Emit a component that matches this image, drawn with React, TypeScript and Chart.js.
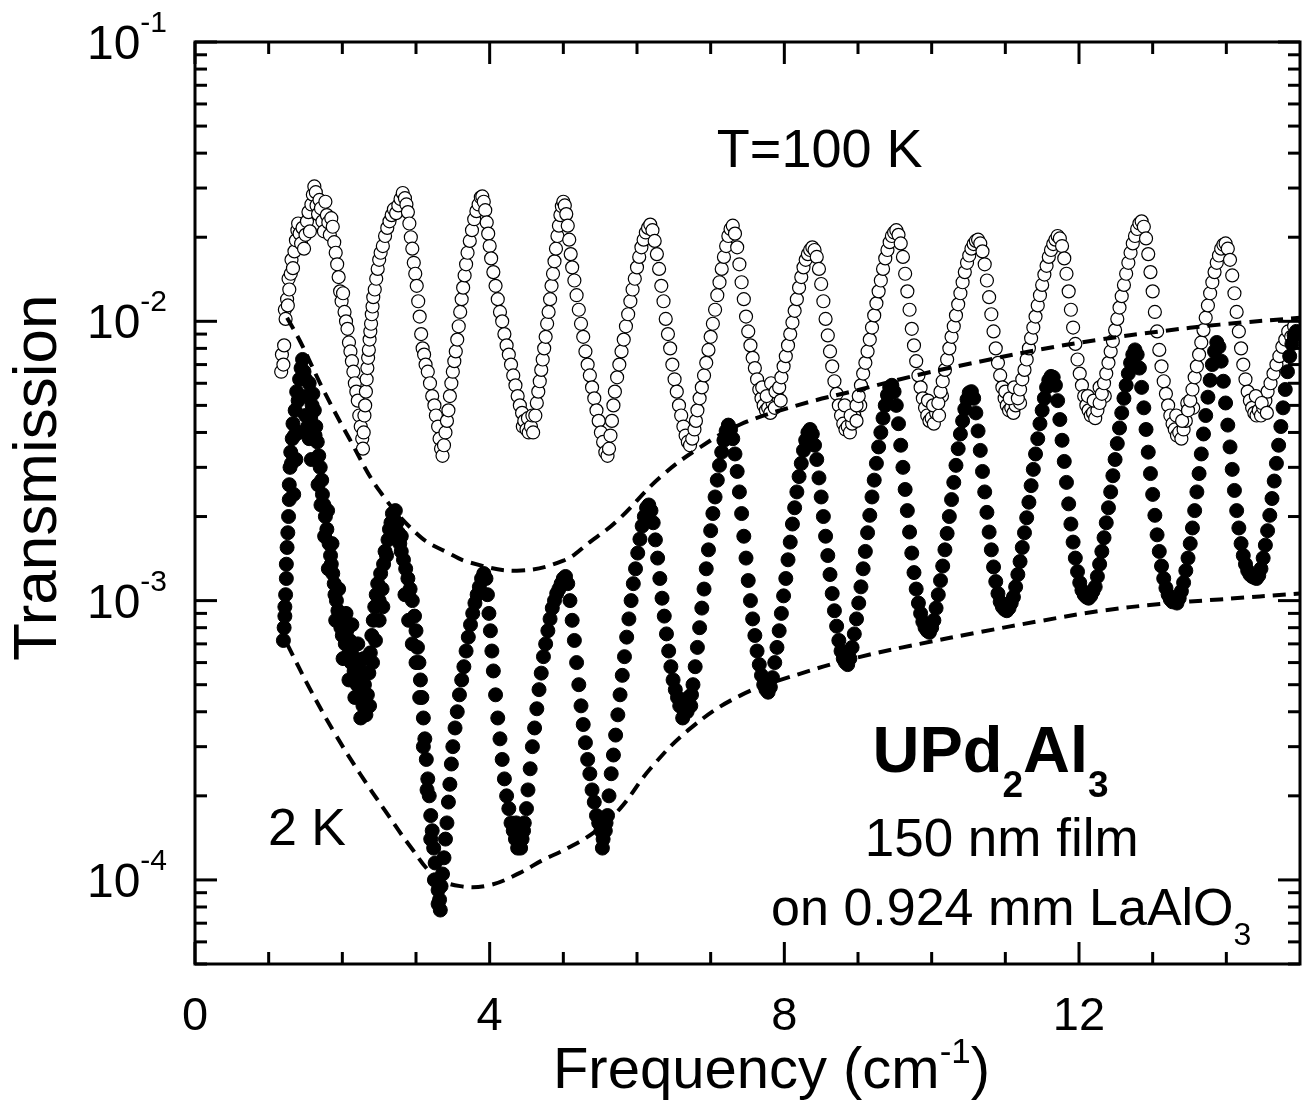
import React, { useEffect, useRef } from "react";
import { Chart, registerables } from "chart.js";

Chart.register(...registerables);

// ---- axes ----
const X_MIN = 0;
const X_MAX = 15;
const Y_MIN = 5e-5;
const Y_MAX = 0.1;
const X_MAJOR_TICKS = [0, 4, 8, 12];
const X_TICK_LABELS = ["0", "4", "8", "12"];
const X_MINOR_TICKS = [1, 2, 3, 5, 6, 7, 9, 10, 11, 13, 14];
const Y_DECADE_EXPONENTS = [-1, -2, -3, -4];
const Y_MINOR_MULTIPLIERS = [2, 3, 4, 5, 6, 7, 8, 9];

// values below are in units of 1e-3 (transmission)
const UNIT = 1e-3;

// T = 100 K, open circles: [frequency (cm^-1), transmission x 1e-3]
const t100K: [number, number][] = [
  [1.17, 6.6], [1.18, 7.6], [1.2, 7.0], [1.21, 8.2], [1.22, 11.0], [1.23, 10.2], [1.25, 12.0], [1.26, 11.4],
  [1.27, 14.2], [1.28, 13.0], [1.3, 14.8], [1.31, 16.6], [1.33, 15.5], [1.35, 17.8], [1.37, 19.5], [1.39, 21.2],
  [1.4, 22.4], [1.42, 20.6], [1.44, 19.0], [1.46, 21.6], [1.48, 18.2], [1.5, 20.4], [1.52, 22.8], [1.54, 24.6],
  [1.56, 21.0], [1.58, 26.2], [1.6, 28.4], [1.62, 30.4], [1.64, 29.0], [1.65, 26.0], [1.67, 24.2], [1.69, 27.2],
  [1.71, 25.4], [1.73, 22.8], [1.75, 21.0], [1.77, 26.8], [1.79, 24.0], [1.81, 22.6], [1.83, 20.4], [1.85, 23.4],
  [1.87, 21.8], [1.89, 19.2], [1.91, 17.6], [1.93, 16.0], [1.95, 14.4], [1.97, 12.8], [1.99, 11.8], [2.01, 12.6],
  [2.03, 10.8], [2.05, 10.0], [2.07, 9.4], [2.09, 8.4], [2.11, 7.8], [2.13, 7.2], [2.15, 6.6], [2.17, 6.0],
  [2.19, 5.6], [2.21, 5.2], [2.23, 4.6], [2.25, 4.2], [2.27, 3.8], [2.28, 3.5],
  [2.29, 4.0], [2.3, 4.6], [2.31, 5.0], [2.32, 5.6], [2.33, 6.2], [2.34, 6.8], [2.35, 7.4], [2.36, 7.9],
  [2.37, 8.6], [2.38, 9.2], [2.39, 9.8], [2.4, 10.6], [2.41, 11.3], [2.42, 12.2], [2.44, 13.0], [2.46, 14.2],
  [2.48, 15.4], [2.5, 16.6], [2.52, 17.6], [2.55, 18.6], [2.58, 20.2], [2.61, 21.6], [2.64, 22.8], [2.67, 24.0],
  [2.7, 25.2], [2.73, 24.4], [2.76, 26.0], [2.79, 27.4], [2.82, 28.8], [2.85, 27.6], [2.87, 26.2], [2.89, 24.6],
  [2.91, 22.4], [2.93, 20.0], [2.95, 18.2], [2.97, 16.2], [2.99, 14.8], [3.01, 13.4], [3.03, 11.8], [3.05, 10.4],
  [3.07, 9.0], [3.09, 8.0], [3.11, 7.6], [3.13, 7.0], [3.16, 6.6], [3.19, 6.0], [3.22, 5.4], [3.25, 5.0],
  [3.27, 4.6], [3.3, 4.2], [3.32, 3.8], [3.34, 3.5], [3.36, 3.3], [3.38, 3.6], [3.4, 4.0], [3.42, 4.4],
  [3.44, 4.8], [3.46, 5.4], [3.48, 6.0], [3.5, 6.6], [3.52, 7.2], [3.54, 7.8], [3.56, 8.6], [3.58, 9.6],
  [3.6, 10.8], [3.62, 12.0], [3.64, 13.2], [3.66, 14.6], [3.68, 16.0], [3.7, 17.6], [3.73, 19.4], [3.76, 21.2],
  [3.79, 23.2], [3.82, 24.8], [3.85, 26.2], [3.88, 27.8], [3.9, 28.0], [3.92, 26.8], [3.94, 25.0], [3.96, 22.6],
  [3.98, 20.6], [4.0, 18.6], [4.02, 16.8], [4.05, 15.0], [4.08, 13.4], [4.11, 12.0], [4.14, 10.8], [4.17, 10.0],
  [4.2, 9.0], [4.23, 8.2], [4.26, 7.6], [4.29, 7.0], [4.32, 6.4], [4.35, 5.9], [4.38, 5.4], [4.41, 5.0],
  [4.44, 4.7], [4.45, 4.2], [4.47, 4.4], [4.5, 4.1], [4.52, 4.5], [4.53, 4.0], [4.56, 4.2], [4.58, 4.6], [4.59, 4.0],
  [4.62, 4.6], [4.64, 5.1], [4.66, 5.6], [4.68, 6.1], [4.7, 6.7], [4.72, 7.3], [4.74, 8.0], [4.76, 8.8],
  [4.78, 9.8], [4.8, 10.8], [4.82, 12.0], [4.84, 13.4], [4.86, 14.8], [4.88, 16.4], [4.9, 18.2], [4.92, 20.2],
  [4.94, 22.0], [4.96, 24.0], [4.98, 25.8], [5.0, 26.8], [5.02, 26.0], [5.04, 24.2], [5.06, 22.0], [5.08, 19.6],
  [5.1, 17.4], [5.12, 15.6], [5.15, 14.0], [5.18, 12.4], [5.21, 11.0], [5.24, 9.8], [5.27, 8.8], [5.3, 7.8],
  [5.33, 7.0], [5.36, 6.4], [5.39, 5.8], [5.42, 5.3], [5.45, 4.8], [5.48, 4.4], [5.51, 4.0], [5.54, 3.7],
  [5.57, 3.4], [5.6, 3.3], [5.62, 3.5],
  [5.64, 3.9], [5.66, 4.4], [5.68, 5.0], [5.7, 5.6], [5.73, 6.3], [5.76, 7.0], [5.79, 7.8], [5.82, 8.6],
  [5.85, 9.6], [5.88, 10.6], [5.91, 11.8], [5.94, 13.0], [5.97, 14.2], [6.0, 15.6], [6.03, 17.0], [6.06, 18.4],
  [6.09, 19.6], [6.12, 20.8], [6.15, 21.6], [6.18, 22.2], [6.21, 21.2], [6.24, 19.4], [6.27, 17.4], [6.3, 15.4],
  [6.33, 13.4], [6.36, 11.8], [6.39, 10.2], [6.42, 9.0], [6.45, 8.0], [6.48, 7.0], [6.51, 6.2], [6.54, 5.6],
  [6.57, 5.0], [6.6, 4.6], [6.63, 4.2], [6.66, 3.9], [6.69, 3.7], [6.72, 3.6], [6.75, 3.8], [6.78, 4.1],
  [6.8, 4.4], [6.82, 4.8], [6.85, 5.3], [6.88, 5.8], [6.91, 6.4], [6.94, 7.1], [6.97, 7.9], [7.0, 8.8],
  [7.03, 9.8], [7.06, 11.0], [7.09, 12.4], [7.12, 13.8], [7.15, 15.4], [7.18, 17.0], [7.21, 18.6], [7.24, 20.2],
  [7.27, 21.4], [7.3, 22.0], [7.33, 20.6], [7.36, 18.4], [7.39, 16.0], [7.42, 13.8], [7.45, 12.0], [7.48, 10.4],
  [7.51, 9.2], [7.54, 8.2], [7.57, 7.4], [7.6, 6.8], [7.63, 6.2], [7.66, 5.7], [7.69, 5.3], [7.72, 5.0],
  [7.75, 4.8], [7.78, 4.9], [7.81, 4.7], [7.84, 5.1], [7.87, 4.9], [7.9, 5.4],
  [7.7, 5.8], [7.76, 5.4], [7.82, 6.0], [7.88, 5.6], [7.95, 5.2],
  [7.93, 5.8], [7.96, 6.3], [7.99, 6.9], [8.02, 7.5], [8.05, 8.2], [8.08, 9.0], [8.11, 9.9], [8.14, 10.9],
  [8.17, 12.0], [8.2, 13.2], [8.23, 14.4], [8.26, 15.6], [8.29, 16.6], [8.32, 17.4], [8.35, 18.0], [8.38, 18.4],
  [8.41, 18.0], [8.44, 17.0], [8.47, 15.4], [8.5, 13.6], [8.53, 11.8], [8.56, 10.2], [8.59, 8.9], [8.62, 7.8],
  [8.65, 6.9], [8.68, 6.1], [8.71, 5.5], [8.74, 5.0], [8.77, 4.6], [8.8, 4.3], [8.83, 4.1], [8.86, 4.2],
  [8.89, 4.0], [8.92, 4.3], [8.95, 4.6],
  [8.82, 5.0], [8.9, 4.6], [8.98, 4.4], [9.03, 5.0],
  [8.98, 5.0], [9.01, 5.4], [9.04, 5.9], [9.07, 6.5], [9.1, 7.1], [9.13, 7.8], [9.16, 8.6], [9.19, 9.5],
  [9.22, 10.5], [9.25, 11.6], [9.28, 12.8], [9.31, 14.0], [9.34, 15.4], [9.37, 16.8], [9.4, 18.0], [9.43, 19.2],
  [9.46, 20.2], [9.49, 20.8], [9.52, 21.2], [9.55, 20.4], [9.58, 19.0], [9.61, 17.0], [9.64, 14.8], [9.67, 12.8],
  [9.7, 11.0], [9.73, 9.4], [9.76, 8.2], [9.79, 7.2], [9.82, 6.4], [9.85, 5.8], [9.88, 5.3], [9.91, 4.9],
  [9.94, 4.6], [9.97, 4.4], [10.0, 4.5], [10.03, 4.3], [10.06, 4.7],
  [9.95, 5.2], [10.02, 5.0], [10.1, 4.6], [10.14, 5.4],
  [10.09, 5.1], [10.12, 5.6], [10.15, 6.1], [10.18, 6.7], [10.21, 7.3], [10.24, 8.0], [10.27, 8.8], [10.3, 9.6],
  [10.33, 10.5], [10.36, 11.5], [10.39, 12.6], [10.42, 13.8], [10.45, 15.0], [10.48, 16.2], [10.51, 17.2], [10.54, 18.2],
  [10.57, 18.9], [10.6, 19.4], [10.63, 19.6], [10.66, 19.0], [10.69, 17.8], [10.72, 16.0], [10.75, 14.0], [10.78, 12.2],
  [10.81, 10.6], [10.84, 9.2], [10.87, 8.0], [10.9, 7.1], [10.93, 6.4], [10.96, 5.8], [10.99, 5.3], [11.02, 5.0],
  [11.05, 4.8], [11.08, 4.9], [11.11, 4.7], [11.14, 5.0],
  [11.0, 5.6], [11.06, 5.3], [11.12, 5.8], [11.2, 5.1],
  [11.17, 5.3], [11.2, 5.7], [11.23, 6.2], [11.26, 6.7], [11.29, 7.3], [11.32, 8.0], [11.35, 8.7], [11.38, 9.5],
  [11.41, 10.4], [11.44, 11.4], [11.47, 12.4], [11.5, 13.5], [11.53, 14.7], [11.56, 15.8], [11.59, 17.0], [11.62, 18.0],
  [11.65, 18.9], [11.68, 19.6], [11.71, 20.2], [11.74, 19.8], [11.77, 18.6], [11.8, 16.8], [11.83, 14.8], [11.86, 12.8],
  [11.89, 11.0], [11.92, 9.5], [11.95, 8.3], [11.98, 7.3], [12.01, 6.5], [12.04, 5.9], [12.07, 5.4], [12.1, 5.0],
  [12.13, 4.8], [12.16, 4.6], [12.19, 4.7], [12.22, 4.5], [12.25, 4.8],
  [12.12, 5.4], [12.2, 5.2], [12.28, 5.8], [12.35, 5.4],
  [12.28, 5.1], [12.31, 5.5], [12.34, 6.0], [12.37, 6.5], [12.4, 7.1], [12.43, 7.8], [12.46, 8.5], [12.49, 9.3],
  [12.52, 10.2], [12.55, 11.2], [12.58, 12.3], [12.61, 13.5], [12.64, 14.8], [12.67, 16.2], [12.7, 17.6], [12.73, 19.0],
  [12.76, 20.2], [12.79, 21.4], [12.82, 22.4], [12.85, 22.8], [12.88, 21.8], [12.91, 19.8], [12.94, 17.4], [12.97, 15.0],
  [13.0, 12.8], [13.03, 10.8], [13.06, 9.2], [13.09, 7.9], [13.12, 6.9], [13.15, 6.1], [13.18, 5.5], [13.21, 5.0],
  [13.24, 4.6], [13.27, 4.3], [13.3, 4.1], [13.33, 3.9], [13.36, 4.0], [13.39, 3.8], [13.42, 4.1], [13.45, 4.4],
  [13.32, 4.6], [13.4, 4.4], [13.47, 5.1], [13.55, 4.9],
  [13.48, 4.8], [13.51, 5.2], [13.54, 5.7], [13.57, 6.3], [13.6, 6.9], [13.63, 7.6], [13.66, 8.4], [13.69, 9.3],
  [13.72, 10.3], [13.75, 11.4], [13.78, 12.6], [13.81, 13.8], [13.84, 15.0], [13.87, 16.2], [13.9, 17.2], [13.93, 18.2],
  [13.96, 18.8], [13.99, 19.0], [14.02, 18.2], [14.05, 16.6], [14.08, 14.6], [14.11, 12.6], [14.14, 10.8], [14.17, 9.2],
  [14.2, 8.0], [14.23, 7.0], [14.26, 6.2], [14.29, 5.6], [14.32, 5.2], [14.35, 4.9], [14.38, 4.7], [14.41, 4.6],
  [14.44, 4.8], [14.47, 4.6], [14.5, 4.9], [14.53, 5.2], [14.56, 5.6], [14.6, 6.0], [14.64, 6.5], [14.68, 7.0],
  [14.4, 5.4], [14.48, 5.1], [14.55, 4.7],
  [14.72, 7.5], [14.76, 8.1], [14.8, 8.6], [14.84, 9.2], [14.88, 8.8], [14.92, 9.6], [14.96, 8.4],
];

// T = 2 K, filled circles: [frequency (cm^-1), transmission x 1e-3]
const t2K: [number, number][] = [
  [1.2, 0.72], [1.21, 0.8], [1.22, 0.88], [1.22, 0.95], [1.23, 1.05], [1.24, 1.2], [1.24, 1.35], [1.25, 1.55],
  [1.26, 1.75], [1.27, 2.0], [1.28, 2.3], [1.28, 2.6], [1.29, 3.0], [1.3, 3.4], [1.31, 3.1], [1.32, 3.8],
  [1.33, 4.3], [1.35, 3.9], [1.36, 4.8], [1.38, 5.6], [1.4, 5.2], [1.42, 6.2], [1.44, 6.8], [1.46, 7.3],
  [1.48, 6.6], [1.5, 6.2], [1.52, 5.4], [1.5, 4.6], [1.53, 4.2], [1.55, 3.8], [1.57, 4.5], [1.59, 5.0],
  [1.6, 5.5], [1.62, 4.8], [1.64, 4.2], [1.66, 3.7], [1.68, 3.3], [1.7, 3.0], [1.72, 2.7], [1.73, 2.4],
  [1.75, 2.2], [1.77, 2.0], [1.79, 1.8], [1.8, 2.1], [1.82, 1.6], [1.84, 1.45], [1.85, 1.35], [1.87, 1.25],
  [1.89, 1.15], [1.9, 1.05], [1.92, 1.0], [1.94, 0.92], [1.96, 0.86], [1.98, 0.8], [2.0, 0.75], [2.02, 0.82],
  [2.04, 0.7], [2.06, 0.78], [2.08, 0.64], [2.1, 0.72], [2.12, 0.6], [2.14, 0.68], [2.16, 0.56], [2.18, 0.62],
  [2.2, 0.5], [2.22, 0.58], [2.24, 0.46], [2.26, 0.54], [2.28, 0.42], [2.3, 0.5], [2.32, 0.39], [2.34, 0.46],
  [2.36, 0.55], [2.38, 0.65], [2.4, 0.75], [2.42, 0.85], [2.44, 0.95],
  [1.34, 2.4], [1.37, 3.2], [1.41, 4.0], [1.55, 6.0], [1.58, 3.2], [1.63, 3.9], [1.67, 2.6], [1.71, 2.2],
  [1.76, 1.7], [1.81, 1.3], [1.86, 1.6], [1.91, 0.85], [1.95, 1.1], [2.01, 0.62], [2.05, 0.9], [2.09, 0.52],
  [2.13, 0.82], [2.17, 0.45], [2.21, 0.7], [2.25, 0.38], [2.29, 0.62], [2.33, 0.55], [2.37, 0.42], [2.41, 0.6],
  [2.45, 0.72], [2.5, 0.85], [2.55, 0.95],
  [2.46, 1.05], [2.48, 1.15], [2.5, 1.0], [2.52, 1.25], [2.54, 1.1], [2.56, 1.35], [2.58, 1.5], [2.6, 1.45],
  [2.62, 1.65], [2.64, 1.8], [2.66, 1.9], [2.68, 2.05], [2.7, 1.95], [2.72, 2.1], [2.74, 1.9], [2.76, 1.75],
  [2.78, 1.6], [2.8, 1.5], [2.83, 1.4], [2.86, 1.3], [2.89, 1.2], [2.92, 1.1], [2.95, 1.0], [2.98, 0.88],
  [3.0, 0.78], [3.02, 0.68], [3.04, 0.6], [3.06, 0.52], [3.08, 0.45], [3.1, 0.38], [3.12, 0.32], [3.14, 0.27],
  [3.16, 0.23], [3.18, 0.2], [3.2, 0.17], [3.22, 0.15], [3.24, 0.13], [3.26, 0.115], [3.28, 0.1], [3.3, 0.092],
  [3.32, 0.085], [3.33, 0.078], [3.34, 0.095], [3.36, 0.105],
  [2.8, 1.7], [2.85, 1.05], [2.9, 0.85], [2.95, 0.7], [3.0, 0.6], [3.05, 0.45], [3.1, 0.3], [3.15, 0.21],
  [3.2, 0.14], [3.25, 0.1], [3.3, 0.082],
  [3.38, 0.12], [3.4, 0.14], [3.42, 0.16], [3.44, 0.19], [3.46, 0.22], [3.48, 0.26], [3.5, 0.3], [3.53, 0.35],
  [3.56, 0.4], [3.59, 0.46], [3.62, 0.52], [3.65, 0.58], [3.68, 0.66], [3.71, 0.74], [3.74, 0.82], [3.77, 0.9],
  [3.8, 0.98], [3.83, 1.05], [3.86, 1.12], [3.89, 1.2], [3.92, 1.25], [3.95, 1.2], [3.97, 1.05], [3.99, 0.9],
  [4.01, 0.78], [4.03, 0.66], [4.05, 0.56], [4.08, 0.46], [4.11, 0.38], [4.14, 0.32], [4.17, 0.27], [4.2, 0.23],
  [4.23, 0.2], [4.26, 0.18], [4.29, 0.16], [4.32, 0.15], [4.35, 0.14], [4.38, 0.13], [4.41, 0.15], [4.44, 0.14],
  [4.47, 0.16], [4.36, 0.16], [4.42, 0.13], [4.46, 0.15],
  [4.5, 0.18], [4.52, 0.21], [4.55, 0.25], [4.58, 0.3], [4.61, 0.35], [4.64, 0.41], [4.67, 0.48], [4.7, 0.55],
  [4.73, 0.63], [4.76, 0.7], [4.79, 0.78], [4.82, 0.86], [4.85, 0.94], [4.88, 1.0], [4.91, 1.06], [4.94, 1.1],
  [4.97, 1.15], [5.0, 1.2], [5.03, 1.22], [5.06, 1.15], [5.09, 1.0], [5.12, 0.85], [5.15, 0.72], [5.18, 0.6],
  [5.21, 0.5], [5.24, 0.42], [5.27, 0.36], [5.3, 0.31], [5.33, 0.27], [5.36, 0.24], [5.39, 0.21], [5.42, 0.19],
  [5.45, 0.17], [5.48, 0.16], [5.51, 0.15], [5.54, 0.14], [5.57, 0.15], [5.6, 0.17],
  [5.5, 0.16], [5.53, 0.13], [5.58, 0.16],
  [5.62, 0.2], [5.65, 0.24], [5.68, 0.28], [5.71, 0.33], [5.74, 0.39], [5.77, 0.46], [5.8, 0.54], [5.83, 0.63],
  [5.86, 0.74], [5.89, 0.86], [5.92, 1.0], [5.95, 1.15], [5.98, 1.3], [6.01, 1.48], [6.04, 1.66], [6.07, 1.85],
  [6.1, 2.0], [6.13, 2.15], [6.16, 2.2], [6.19, 2.1], [6.22, 1.9], [6.25, 1.65], [6.28, 1.42], [6.31, 1.2],
  [6.34, 1.02], [6.37, 0.88], [6.4, 0.76], [6.43, 0.66], [6.46, 0.58], [6.49, 0.52], [6.52, 0.48], [6.55, 0.45],
  [6.58, 0.42], [6.61, 0.44], [6.64, 0.4], [6.67, 0.43], [6.7, 0.45], [6.73, 0.42],
  [6.62, 0.38], [6.68, 0.4], [6.74, 0.46],
  [6.76, 0.5], [6.79, 0.58], [6.82, 0.68], [6.85, 0.8], [6.88, 0.94], [6.91, 1.1], [6.94, 1.3], [6.97, 1.52],
  [7.0, 1.78], [7.03, 2.05], [7.06, 2.35], [7.09, 2.7], [7.12, 3.05], [7.15, 3.4], [7.18, 3.75], [7.21, 4.05],
  [7.24, 4.25], [7.27, 4.1], [7.3, 3.8], [7.33, 3.35], [7.36, 2.9], [7.39, 2.45], [7.42, 2.05], [7.45, 1.7],
  [7.48, 1.42], [7.51, 1.18], [7.54, 1.0], [7.57, 0.86], [7.6, 0.75], [7.63, 0.66], [7.66, 0.59], [7.69, 0.54],
  [7.72, 0.5], [7.75, 0.48], [7.78, 0.47], [7.81, 0.49],
  [7.84, 0.53], [7.87, 0.6], [7.9, 0.68], [7.93, 0.78], [7.96, 0.9], [7.99, 1.04], [8.02, 1.2], [8.05, 1.4],
  [8.08, 1.62], [8.11, 1.88], [8.14, 2.15], [8.17, 2.45], [8.2, 2.78], [8.23, 3.1], [8.26, 3.45], [8.29, 3.75],
  [8.32, 4.0], [8.35, 4.1], [8.38, 3.95], [8.41, 3.6], [8.44, 3.2], [8.47, 2.75], [8.5, 2.35], [8.53, 2.0],
  [8.56, 1.7], [8.59, 1.45], [8.62, 1.24], [8.65, 1.06], [8.68, 0.92], [8.71, 0.81], [8.74, 0.72], [8.77, 0.66],
  [8.8, 0.62], [8.83, 0.6], [8.86, 0.59], [8.89, 0.62],
  [8.92, 0.68], [8.95, 0.76], [8.98, 0.86], [9.01, 0.98], [9.04, 1.12], [9.07, 1.3], [9.1, 1.5], [9.13, 1.75],
  [9.16, 2.02], [9.19, 2.35], [9.22, 2.7], [9.25, 3.1], [9.28, 3.55], [9.31, 4.0], [9.34, 4.5], [9.37, 5.0],
  [9.4, 5.45], [9.43, 5.8], [9.46, 5.9], [9.49, 5.6], [9.52, 5.0], [9.55, 4.3], [9.58, 3.6], [9.61, 3.0],
  [9.64, 2.5], [9.67, 2.1], [9.7, 1.76], [9.73, 1.48], [9.76, 1.26], [9.79, 1.1], [9.82, 0.98], [9.85, 0.9],
  [9.88, 0.84], [9.91, 0.8], [9.94, 0.78], [9.97, 0.77], [10.0, 0.8],
  [10.03, 0.85], [10.06, 0.94], [10.09, 1.05], [10.12, 1.18], [10.15, 1.33], [10.18, 1.52], [10.21, 1.74], [10.24, 2.0],
  [10.27, 2.3], [10.3, 2.65], [10.33, 3.05], [10.36, 3.5], [10.39, 3.95], [10.42, 4.4], [10.45, 4.85], [10.48, 5.25],
  [10.51, 5.55], [10.54, 5.6], [10.57, 5.3], [10.6, 4.7], [10.63, 4.05], [10.66, 3.45], [10.69, 2.9], [10.72, 2.45],
  [10.75, 2.07], [10.78, 1.76], [10.81, 1.52], [10.84, 1.32], [10.87, 1.17], [10.9, 1.06], [10.93, 0.99], [10.96, 0.95],
  [10.99, 0.93], [11.02, 0.92], [11.05, 0.94], [11.08, 0.98],
  [11.11, 1.03], [11.14, 1.12], [11.17, 1.24], [11.2, 1.38], [11.23, 1.55], [11.26, 1.75], [11.29, 1.98], [11.32, 2.25],
  [11.35, 2.58], [11.38, 2.95], [11.41, 3.35], [11.44, 3.8], [11.47, 4.3], [11.5, 4.8], [11.53, 5.3], [11.56, 5.8],
  [11.59, 6.15], [11.62, 6.35], [11.65, 6.3], [11.68, 5.9], [11.71, 5.2], [11.74, 4.45], [11.77, 3.75], [11.8, 3.15],
  [11.83, 2.65], [11.86, 2.22], [11.89, 1.88], [11.92, 1.62], [11.95, 1.42], [11.98, 1.27], [12.01, 1.16], [12.04, 1.09],
  [12.07, 1.05], [12.1, 1.03], [12.13, 1.02], [12.16, 1.04], [12.19, 1.08],
  [12.22, 1.12], [12.25, 1.22], [12.28, 1.35], [12.31, 1.5], [12.34, 1.68], [12.37, 1.9], [12.4, 2.15], [12.43, 2.45],
  [12.46, 2.8], [12.49, 3.2], [12.52, 3.65], [12.55, 4.15], [12.58, 4.7], [12.61, 5.3], [12.64, 5.9], [12.67, 6.5],
  [12.7, 7.1], [12.73, 7.6], [12.76, 7.9], [12.79, 7.6], [12.82, 6.8], [12.85, 5.8], [12.88, 4.9], [12.91, 4.1],
  [12.94, 3.4], [12.97, 2.85], [13.0, 2.4], [13.03, 2.02], [13.06, 1.72], [13.09, 1.5], [13.12, 1.33], [13.15, 1.2],
  [13.18, 1.11], [13.21, 1.05], [13.24, 1.01], [13.27, 0.99], [13.3, 1.0], [13.33, 0.98], [13.36, 1.02],
  [13.39, 1.08], [13.42, 1.16], [13.45, 1.28], [13.48, 1.42], [13.51, 1.6], [13.54, 1.82], [13.57, 2.1], [13.6, 2.45],
  [13.63, 2.85], [13.66, 3.35], [13.69, 3.95], [13.72, 4.6], [13.75, 5.35], [13.78, 6.15], [13.81, 7.0], [13.84, 7.8],
  [13.87, 8.4], [13.9, 8.1], [13.93, 7.2], [13.96, 6.1], [13.99, 5.1], [14.02, 4.25], [14.05, 3.55], [14.08, 2.95],
  [14.11, 2.48], [14.14, 2.1], [14.17, 1.82], [14.2, 1.6], [14.23, 1.45], [14.26, 1.35], [14.29, 1.28], [14.32, 1.24],
  [14.35, 1.22], [14.38, 1.21], [14.41, 1.2], [14.44, 1.23], [14.47, 1.3], [14.5, 1.42], [14.53, 1.58], [14.56, 1.78],
  [14.59, 2.02], [14.62, 2.32], [14.65, 2.68], [14.68, 3.1], [14.71, 3.6], [14.74, 4.2], [14.77, 4.9], [14.8, 5.7],
  [14.83, 6.6], [14.86, 7.5], [14.89, 8.3], [14.92, 8.9], [14.95, 9.2],
];

// dashed envelopes of the 2 K data: [frequency, transmission x 1e-3]
const upperEnvelope: [number, number][] = [
  [1.25, 10.3], [1.43, 8.45], [1.74, 5.7], [2.1, 3.78], [2.51, 2.46], [3.05, 1.7], [3.42, 1.49], [3.73, 1.37],
  [4.37, 1.28], [5.0, 1.39], [5.36, 1.62], [5.73, 1.93], [6.31, 2.76], [6.85, 3.53], [7.4, 4.27], [8.21, 5.03],
  [9.03, 5.7], [9.84, 6.45], [10.66, 7.18], [11.47, 7.93], [12.28, 8.6], [13.1, 9.2], [13.91, 9.73], [15.0, 10.3],
];
const lowerEnvelope: [number, number][] = [
  [1.25, 0.7], [1.56, 0.483], [1.9, 0.334], [2.24, 0.24], [2.58, 0.177], [2.92, 0.132], [3.26, 0.103],
  [3.6, 0.095], [4.0, 0.0958], [4.41, 0.106], [4.7, 0.117], [5.06, 0.13], [5.43, 0.149], [5.77, 0.18], [6.18, 0.25],
  [6.72, 0.348], [7.4, 0.457], [8.21, 0.547], [9.03, 0.629], [9.84, 0.7], [10.66, 0.772], [11.47, 0.845],
  [12.28, 0.918], [13.1, 0.972], [13.91, 1.01], [15.0, 1.06],
];

// annotations: anchors in data coordinates [x (cm^-1), y (transmission)]
const LABEL_T100 = { text: "T=100 K", x: 8.48, y: 0.0357 };
const LABEL_2K = { text: "2 K", x: 0.99, y: 1.33e-4 };
const LABEL_COMPOUND = { x: 10.8, y: 2.44e-4 };
const LABEL_FILM = { text: "150 nm film", x: 10.95, y: 1.22e-4 };
const LABEL_SUBSTRATE = { x: 11.08, y: 6.9e-5 };

const FONT = "'Liberation Sans', Arial, Helvetica, sans-serif";

type Seg = { t: string; size: number; bold?: boolean; dy?: number };

function drawRich(ctx: CanvasRenderingContext2D, segs: Seg[], x: number, y: number, align: "left" | "center" | "right") {
  const fontOf = (s: Seg) => `${s.bold ? "bold " : ""}${s.size}px ${FONT}`;
  const widths = segs.map((s) => {
    ctx.font = fontOf(s);
    return ctx.measureText(s.t).width;
  });
  const total = widths.reduce((a, b) => a + b, 0);
  let cx = align === "left" ? x : align === "center" ? x - total / 2 : x - total;
  ctx.textAlign = "left";
  ctx.textBaseline = "alphabetic";
  segs.forEach((s, i) => {
    ctx.font = fontOf(s);
    ctx.fillText(s.t, cx, y + (s.dy || 0));
    cx += widths[i];
  });
}

const framePlugin = {
  id: "framePlugin",
  beforeDraw(chart: any) {
    const ctx = chart.ctx as CanvasRenderingContext2D;
    ctx.save();
    ctx.fillStyle = "#fff";
    ctx.fillRect(0, 0, chart.width, chart.height);
    ctx.restore();
  },
  afterDraw(chart: any) {
    const ctx = chart.ctx as CanvasRenderingContext2D;
    const { left, right, top, bottom } = chart.chartArea;
    const xs = chart.scales.x;
    const ys = chart.scales.y;
    ctx.save();
    ctx.strokeStyle = "#000";
    ctx.fillStyle = "#000";
    ctx.lineWidth = 3;
    ctx.lineCap = "butt";
    ctx.strokeRect(left, top, right - left, bottom - top);

    const MAJ = 22;
    const MIN = 12;
    const line = (x1: number, y1: number, x2: number, y2: number) => {
      ctx.beginPath();
      ctx.moveTo(x1, y1);
      ctx.lineTo(x2, y2);
      ctx.stroke();
    };
    X_MAJOR_TICKS.forEach((v) => {
      const px = xs.getPixelForValue(v);
      line(px, bottom, px, bottom - MAJ);
      line(px, top, px, top + MAJ);
    });
    X_MINOR_TICKS.forEach((v) => {
      const px = xs.getPixelForValue(v);
      line(px, bottom, px, bottom - MIN);
      line(px, top, px, top + MIN);
    });
    Y_DECADE_EXPONENTS.forEach((e) => {
      const py = ys.getPixelForValue(Math.pow(10, e));
      line(left, py, left + MAJ, py);
      line(right, py, right - MAJ, py);
    });
    [-5, -4, -3, -2].forEach((e) => {
      Y_MINOR_MULTIPLIERS.forEach((m) => {
        const v = m * Math.pow(10, e);
        if (v < Y_MIN || v > Y_MAX) return;
        const py = ys.getPixelForValue(v);
        line(left, py, left + MIN, py);
        line(right, py, right - MIN, py);
      });
    });

    // x tick labels
    ctx.textAlign = "center";
    ctx.textBaseline = "alphabetic";
    ctx.font = `47px ${FONT}`;
    X_MAJOR_TICKS.forEach((v, i) => {
      ctx.fillText(X_TICK_LABELS[i], xs.getPixelForValue(v), bottom + 66);
    });
    // y tick labels 10^n
    Y_DECADE_EXPONENTS.forEach((e) => {
      const py = ys.getPixelForValue(Math.pow(10, e));
      drawRich(ctx, [
        { t: "10", size: 48, dy: 17 },
        { t: `${e}`, size: 30, dy: -10 },
      ], left - 28, py, "right");
    });

    // axis titles
    drawRich(ctx, [
      { t: "Frequency (cm", size: 58 },
      { t: "-1", size: 35, dy: -25 },
      { t: ")", size: 58 },
    ], (left + right) / 2 + 24, bottom + 124, "center");

    ctx.save();
    ctx.translate(56, ys.getPixelForValue(Math.pow(10, -2.56)));
    ctx.rotate(-Math.PI / 2);
    ctx.textAlign = "center";
    ctx.textBaseline = "alphabetic";
    ctx.font = `62px ${FONT}`;
    ctx.fillText("Transmission", 0, 0);
    ctx.restore();

    // annotations
    ctx.textAlign = "center";
    ctx.font = `54px ${FONT}`;
    ctx.fillText(LABEL_T100.text, xs.getPixelForValue(LABEL_T100.x), ys.getPixelForValue(LABEL_T100.y));
    ctx.textAlign = "left";
    ctx.font = `52px ${FONT}`;
    ctx.fillText(LABEL_2K.text, xs.getPixelForValue(LABEL_2K.x), ys.getPixelForValue(LABEL_2K.y));

    drawRich(ctx, [
      { t: "UPd", size: 65, bold: true },
      { t: "2", size: 37, bold: true, dy: 25 },
      { t: "Al", size: 65, bold: true },
      { t: "3", size: 37, bold: true, dy: 25 },
    ], xs.getPixelForValue(LABEL_COMPOUND.x), ys.getPixelForValue(LABEL_COMPOUND.y), "center");

    drawRich(ctx, [{ t: LABEL_FILM.text, size: 53 }],
      xs.getPixelForValue(LABEL_FILM.x), ys.getPixelForValue(LABEL_FILM.y), "center");

    drawRich(ctx, [
      { t: "on 0.924 mm LaAlO", size: 52 },
      { t: "3", size: 32, dy: 20 },
    ], xs.getPixelForValue(LABEL_SUBSTRATE.x), ys.getPixelForValue(LABEL_SUBSTRATE.y), "center");

    ctx.restore();
  },
};

const toXY = (arr: [number, number][]) => arr.map(([x, v]) => ({ x, y: v * UNIT }));

export default function App() {
  const ref = useRef<HTMLCanvasElement>(null);
  useEffect(() => {
    if (!ref.current) return;
    const chart = new Chart(ref.current, {
      type: "scatter",
      data: {
        datasets: [
          {
            type: "line",
            label: "upper",
            data: toXY(upperEnvelope),
            borderColor: "#000",
            borderWidth: 4,
            borderDash: [13, 8],
            pointRadius: 0,
            tension: 0.4,
            fill: false,
          } as any,
          {
            type: "line",
            label: "lower",
            data: toXY(lowerEnvelope),
            borderColor: "#000",
            borderWidth: 4,
            borderDash: [13, 8],
            pointRadius: 0,
            tension: 0.4,
            fill: false,
          } as any,
          {
            label: "2 K",
            data: toXY(t2K),
            pointRadius: 7,
            pointBackgroundColor: "#000",
            pointBorderColor: "#000",
            pointBorderWidth: 1,
            showLine: false,
          },
          {
            label: "100 K",
            data: toXY(t100K),
            pointRadius: 6.5,
            pointBackgroundColor: "#fff",
            pointBorderColor: "#000",
            pointBorderWidth: 1.2,
            showLine: false,
          },
        ],
      },
      options: {
        responsive: false,
        animation: false,
        events: [],
        layout: { autoPadding: false, padding: { left: 195, right: 2, top: 42, bottom: 139 } },
        plugins: { legend: { display: false }, tooltip: { enabled: false }, title: { display: false } },
        scales: {
          x: { type: "linear", min: X_MIN, max: X_MAX, display: false },
          y: { type: "logarithmic", min: Y_MIN, max: Y_MAX, display: false },
        },
      },
      plugins: [framePlugin],
    });
    return () => chart.destroy();
  }, []);
  return (
    <div style={{ position: "absolute", left: 0, top: 0, width: 1302, height: 1103, background: "#fff" }}>
      <canvas ref={ref} width={1302} height={1103} style={{ width: 1302, height: 1103, display: "block" }} />
    </div>
  );
}
